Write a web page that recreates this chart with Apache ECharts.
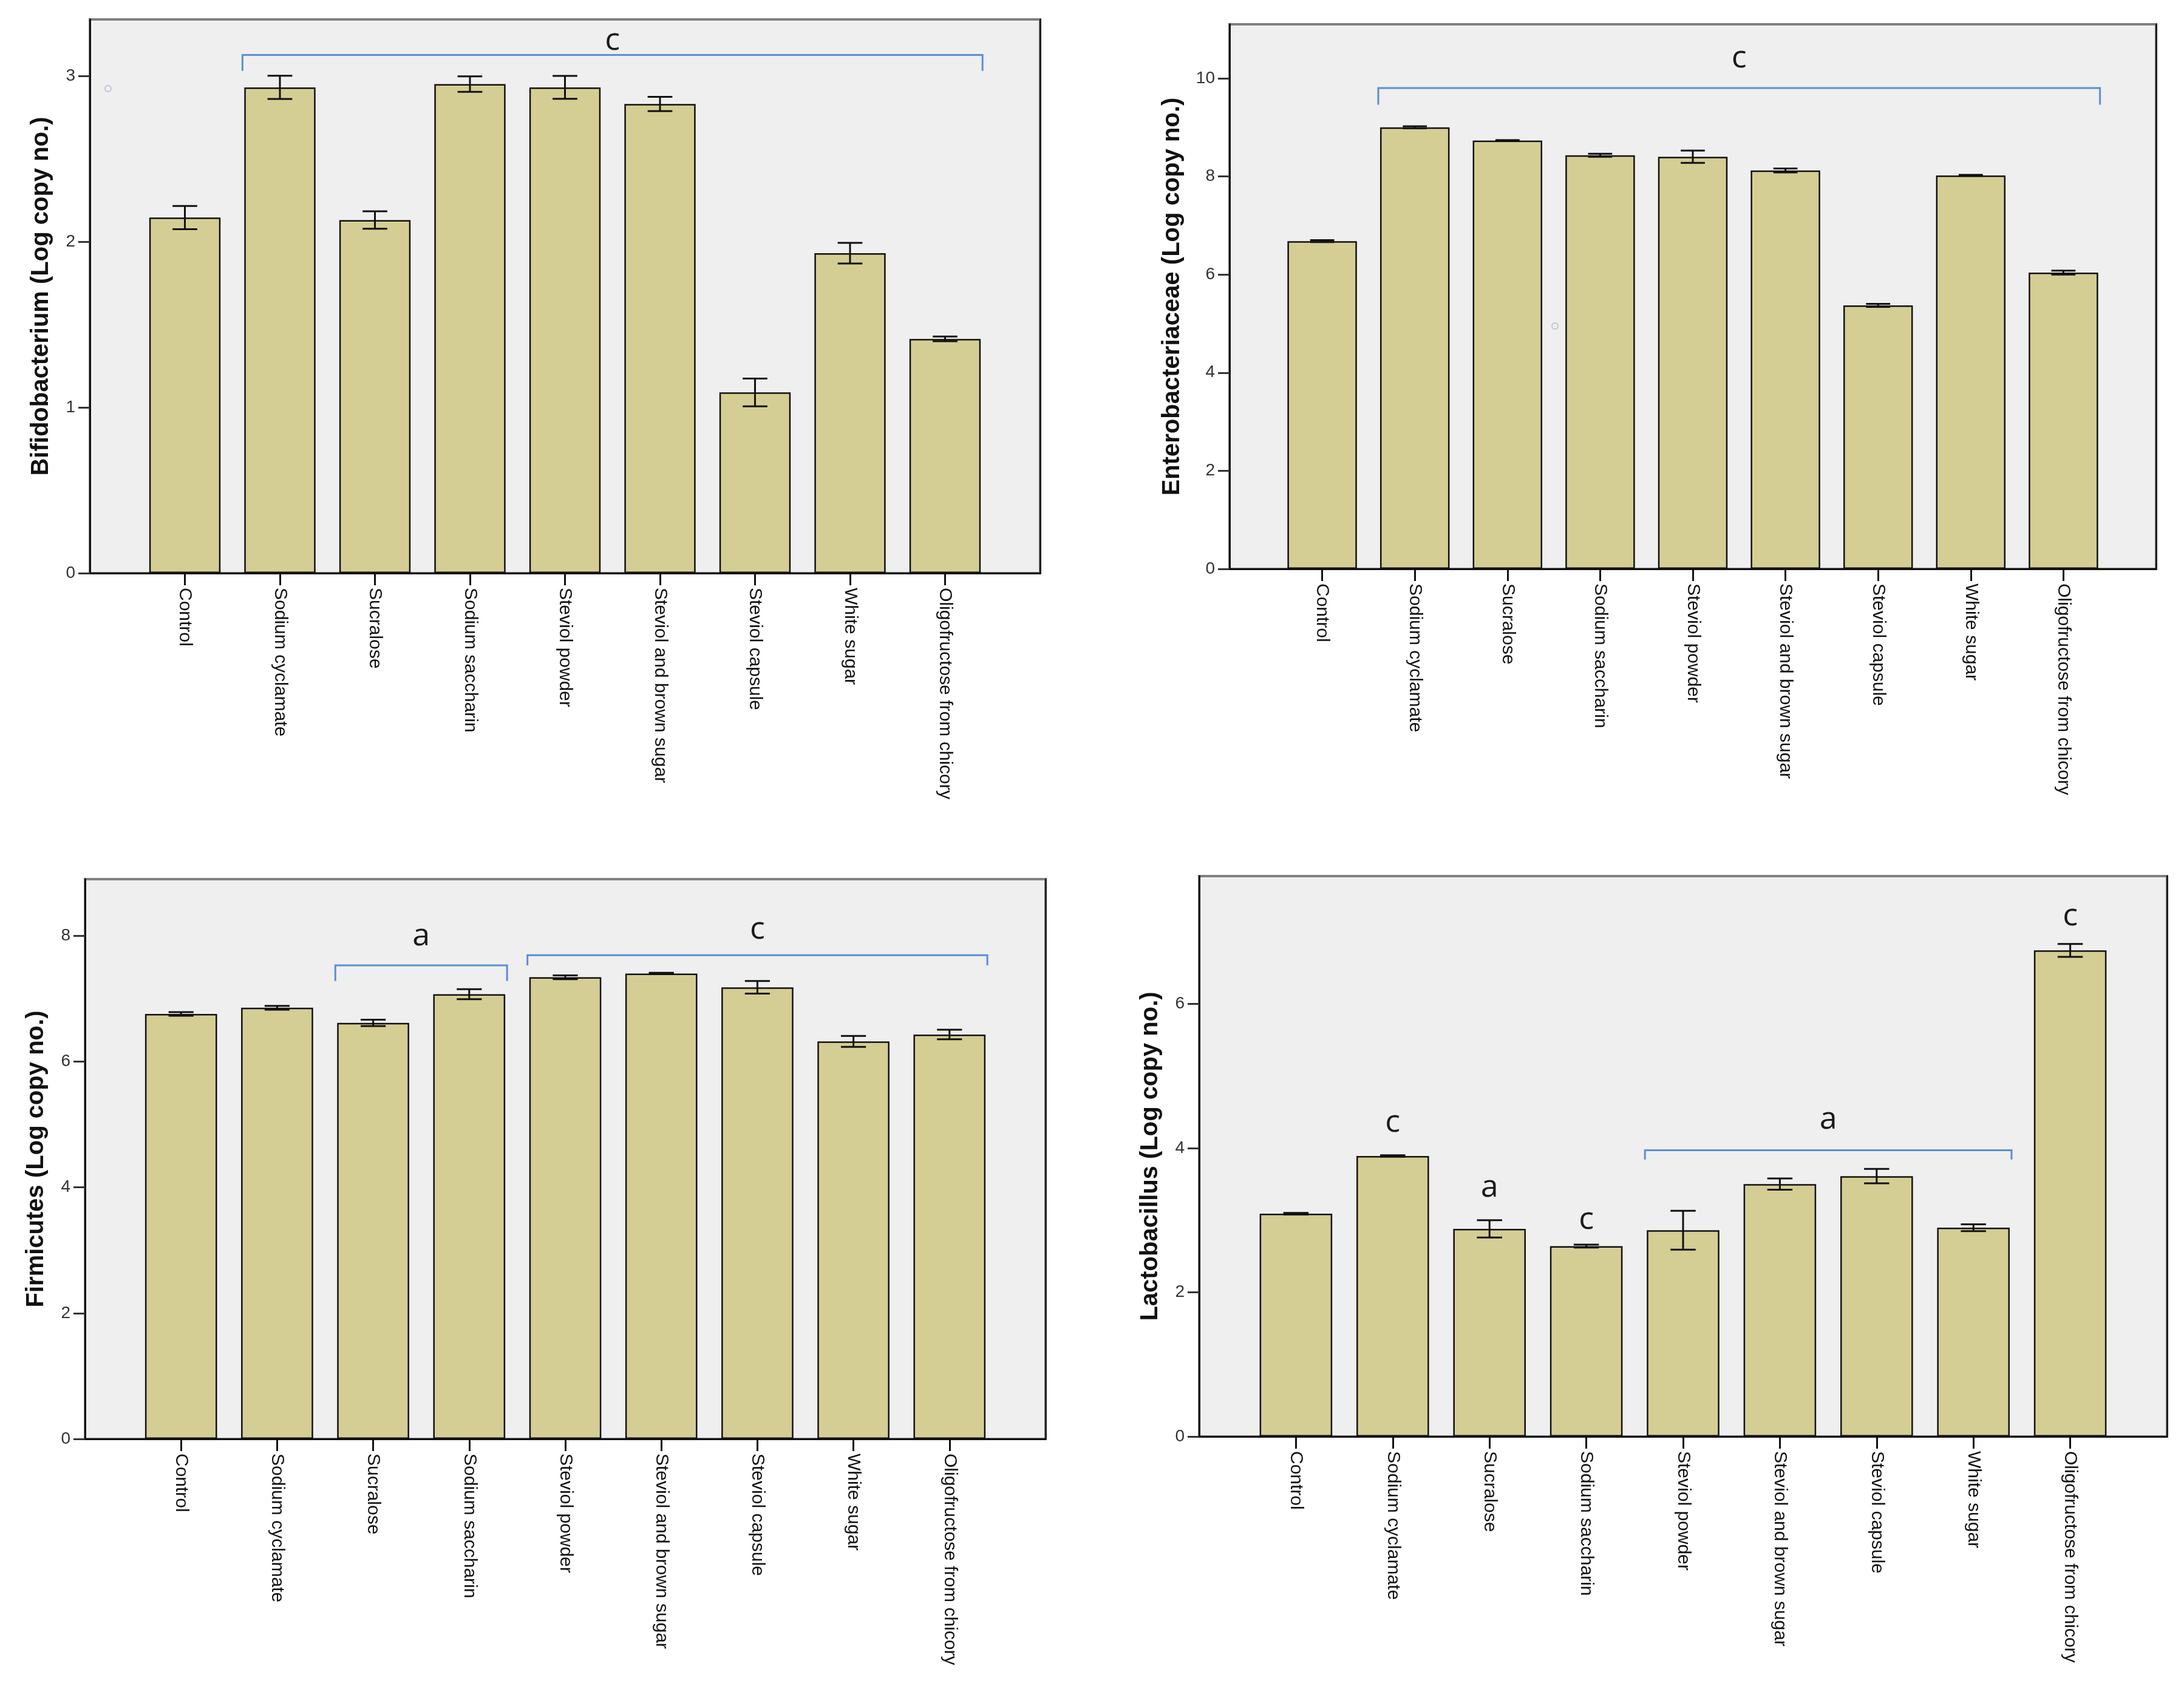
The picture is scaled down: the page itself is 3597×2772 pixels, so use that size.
<!DOCTYPE html>
<html>
<head>
<meta charset="utf-8">
<script src="https://cdn.jsdelivr.net/npm/echarts@6/dist/echarts.min.js"></script>
<style>
html, body { margin: 0; padding: 0; background: #fff; }
#chart { width: 3597px; height: 2772px; }
</style>
</head>
<body>
<div id="chart"></div>
<script>
// 处理组 (x 轴类别)
var groups = ['Control', 'Sodium cyclamate', 'Sucralose', 'Sodium saccharin', 'Steviol powder',
  'Steviol and brown sugar', 'Steviol capsule', 'White sugar', 'Oligofructose from chicory']

// Bifidobacterium
var bifidoMean = [2.145, 2.93, 2.13, 2.95, 2.93, 2.83, 1.09, 1.93, 1.413]
var bifidoErr = [0.07, 0.07, 0.053, 0.047, 0.069, 0.043, 0.084, 0.062, 0.014]
var bifidoTicks = [0, 1, 2, 3]
// [起点组, 终点组, 横线高度, 竖脚高度]
var bifidoBrackets = [[1, 8, 3.126, 3.03]]
// [起点组, 终点组, 字母, 高度]
var bifidoLetters = [[1, 8, 'c', 3.21]]

// Enterobacteriaceae
var enteroMean = [6.68, 9.0, 8.73, 8.43, 8.40, 8.12, 5.37, 8.02, 6.04]
var enteroErr = [0.02, 0.02, 0.01, 0.03, 0.126, 0.04, 0.03, 0.01, 0.04]
var enteroTicks = [0, 2, 4, 6, 8, 10]
var enteroBrackets = [[1, 8, 9.80, 9.46]]
var enteroLetters = [[1, 8, 'c', 10.41]]

// Firmicutes
var firmiMean = [6.757, 6.855, 6.615, 7.07, 7.34, 7.40, 7.18, 6.32, 6.43]
var firmiErr = [0.03, 0.03, 0.05, 0.08, 0.03, 0.01, 0.1, 0.086, 0.077]
var firmiTicks = [0, 2, 4, 6, 8]
var firmiBrackets = [[2, 3, 7.53, 7.28], [4, 8, 7.69, 7.53]]
var firmiLetters = [[2, 3, 'a', 7.99], [4, 8, 'c', 8.10]]

// Lactobacillus
var lactoMean = [3.09, 3.89, 2.88, 2.64, 2.86, 3.50, 3.61, 2.895, 6.74]
var lactoErr = [0.01, 0.01, 0.12, 0.02, 0.27, 0.078, 0.1, 0.048, 0.09]
var lactoTicks = [0, 2, 4, 6]
var lactoBrackets = [[4, 7, 3.97, 3.84]]
var lactoLetters = [[1, 1, 'c', 4.35], [2, 2, 'a', 3.45], [3, 3, 'c', 3.0], [4, 7, 'a', 4.39], [8, 8, 'c', 7.21]]

// 四个子图的布局
var panels = [
  {name: 'Bifidobacterium (Log copy no.)', mean: bifidoMean, err: bifidoErr, ticks: bifidoTicks, max: 3.34,
    brackets: bifidoBrackets, letters: bifidoLetters, left: 148, top: 32, width: 1565, height: 912, gap: 60},
  {name: 'Enterobacteriaceae (Log copy no.)', mean: enteroMean, err: enteroErr, ticks: enteroTicks, max: 11.1,
    brackets: enteroBrackets, letters: enteroLetters, left: 2025, top: 40, width: 1526, height: 897, gap: 74},
  {name: 'Firmicutes (Log copy no.)', mean: firmiMean, err: firmiErr, ticks: firmiTicks, max: 8.9,
    brackets: firmiBrackets, letters: firmiLetters, left: 140, top: 1448, width: 1582, height: 922, gap: 60},
  {name: 'Lactobacillus (Log copy no.)', mean: lactoMean, err: lactoErr, ticks: lactoTicks, max: 7.77,
    brackets: lactoBrackets, letters: lactoLetters, left: 1975, top: 1443, width: 1594, height: 923, gap: 60}
]

// 两端补空类别, 让柱子与坐标框留出半格
var padded = [''].concat(groups).concat([''])

function errRender (params, api) {
  var x = api.value(0)
  var lo = api.coord([x, api.value(1)])
  var hi = api.coord([x, api.value(2)])
  var half = api.size([1, 0])[0] * 0.13
  var style = {stroke: '#111', lineWidth: 3}
  return {
    type: 'group',
    children: [
      {type: 'line', shape: {x1: lo[0], y1: hi[1], x2: lo[0], y2: lo[1]}, style: style},
      {type: 'line', shape: {x1: lo[0] - half, y1: hi[1], x2: lo[0] + half, y2: hi[1]}, style: style},
      {type: 'line', shape: {x1: lo[0] - half, y1: lo[1], x2: lo[0] + half, y2: lo[1]}, style: style}
    ]
  }
}

function bracketRender (params, api) {
  var a = api.coord([api.value(0), api.value(2)])
  var b = api.coord([api.value(1), api.value(2)])
  var foot = api.coord([api.value(0), api.value(3)])[1]
  var h = api.size([1, 0])[0] * 0.375 + 3
  return {
    type: 'polyline',
    shape: {points: [[a[0] - h, foot], [a[0] - h, a[1]], [b[0] + h, b[1]], [b[0] + h, foot]]},
    style: {stroke: '#5b8ed8', lineWidth: 3, fill: null}
  }
}

function letterRender (letters) {
  return function (params, api) {
    var a = api.coord([api.value(0), api.value(2)])
    var b = api.coord([api.value(1), api.value(2)])
    return {
      type: 'text',
      style: {
        text: letters[params.dataIndex][2],
        x: (a[0] + b[0]) / 2,
        y: a[1],
        align: 'center',
        verticalAlign: 'middle',
        font: '52px "Open Sans"',
        fill: '#1a1a1a'
      }
    }
  }
}

var grids = []
var xAxes = []
var yAxes = []
var series = []

panels.forEach(function (p, k) {
  grids.push({
    left: p.left, top: p.top, width: p.width, height: p.height,
    show: true, backgroundColor: '#efefef', borderColor: '#808080', borderWidth: 4,
    outerBoundsMode: 'none'
  })
  xAxes.push({
    gridIndex: k,
    type: 'category',
    data: padded,
    boundaryGap: false,
    axisLine: {lineStyle: {color: '#111', width: 3}},
    axisTick: {
      length: 20,
      interval: function (i) { return i > 0 && i < padded.length - 1 },
      lineStyle: {color: '#111', width: 3}
    },
    axisLabel: {
      interval: 0, rotate: -90, margin: 24,
      fontFamily: 'Liberation Sans', fontSize: 30, color: '#111'
    },
    splitLine: {show: false}
  })
  yAxes.push({
    gridIndex: k,
    type: 'value',
    min: 0,
    max: p.max,
    name: p.name,
    nameLocation: 'middle',
    nameGap: p.gap,
    nameTextStyle: {fontFamily: 'Liberation Sans', fontWeight: 'bold', fontSize: 40, color: '#111'},
    axisLine: {show: true, lineStyle: {color: '#111', width: 3}},
    axisTick: {show: true, length: 19, customValues: p.ticks, lineStyle: {color: '#333', width: 3}},
    axisLabel: {customValues: p.ticks, margin: 24, fontFamily: 'Liberation Sans', fontSize: 28, color: '#333'},
    splitLine: {show: false}
  })
  // 右侧黑色边框
  yAxes.push({
    gridIndex: k,
    type: 'value',
    position: 'right',
    min: 0,
    max: p.max,
    axisLine: {show: true, lineStyle: {color: '#222', width: 3}},
    axisTick: {show: false},
    axisLabel: {show: false},
    splitLine: {show: false}
  })

  var yi = k * 2
  series.push({
    type: 'bar',
    xAxisIndex: k,
    yAxisIndex: yi,
    barWidth: '75%',
    data: ['-'].concat(p.mean).concat(['-']),
    itemStyle: {color: '#d4ce94', borderColor: '#111', borderWidth: 2.5},
    emphasis: {disabled: true},
    animation: false
  })
  series.push({
    type: 'custom',
    xAxisIndex: k,
    yAxisIndex: yi,
    renderItem: errRender,
    data: p.mean.map(function (m, i) { return [i + 1, m - p.err[i], m + p.err[i]] }),
    z: 5,
    animation: false
  })
  series.push({
    type: 'custom',
    xAxisIndex: k,
    yAxisIndex: yi,
    renderItem: bracketRender,
    data: p.brackets.map(function (b) { return [b[0] + 1, b[1] + 1, b[2], b[3]] }),
    z: 5,
    animation: false
  })
  series.push({
    type: 'custom',
    xAxisIndex: k,
    yAxisIndex: yi,
    renderItem: letterRender(p.letters),
    data: p.letters.map(function (l) { return [l[0] + 1, l[1] + 1, l[3]] }),
    z: 5,
    animation: false
  })
})

var myChart = echarts.init(document.getElementById('chart'))
myChart.setOption({
  animation: false,
  backgroundColor: '#ffffff',
  grid: grids,
  xAxis: xAxes,
  yAxis: yAxes,
  series: series,
  // 原图中的两个小圆圈
  graphic: [
    {type: 'circle', shape: {cx: 178, cy: 146, r: 5}, style: {fill: null, stroke: '#c4c4d4', lineWidth: 2}, z: 10},
    {type: 'circle', shape: {cx: 2561, cy: 537, r: 5}, style: {fill: null, stroke: '#c4c4d4', lineWidth: 2}, z: 10}
  ]
})
</script>
</body>
</html>
